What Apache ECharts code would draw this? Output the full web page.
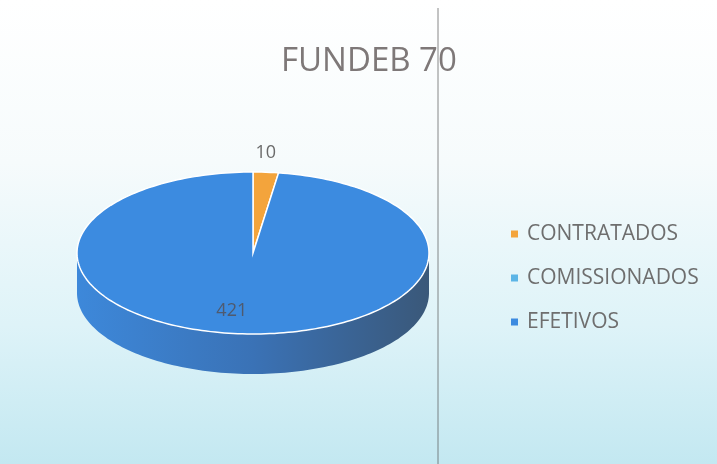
<!DOCTYPE html>
<html>
<head>
<meta charset="utf-8">
<script src="https://cdn.jsdelivr.net/npm/echarts@6/dist/echarts.min.js"></script>
<style>
  html, body { margin: 0; padding: 0; }
  #main { width: 717px; height: 464px; }
</style>
</head>
<body>
<div id="main"></div>
<script>
// dados
const categories = ['CONTRATADOS', 'COMISSIONADOS', 'EFETIVOS'];
const values = [10, 0, 421];
const colors = ['#f3a43c', '#5cb5e6', '#3c8be0'];

// geometria da pizza 3D
const cx = 253, cy = 253, rx = 176, ry = 81, depth = 40;

const total = values.reduce((a, b) => a + b, 0);
const startAngles = [];
let acc = 0;
values.forEach(v => { startAngles.push(acc / total * 360); acc += v; });

function pt(deg, k, dy) {
  const r = deg * Math.PI / 180;
  return [cx + k * rx * Math.sin(r), cy - k * ry * Math.cos(r) + (dy || 0)];
}

function arc(a0, a1, k, dy) {
  const pts = [];
  const n = Math.max(2, Math.ceil((a1 - a0) / 1.5));
  for (let i = 0; i <= n; i++) pts.push(pt(a0 + (a1 - a0) * i / n, k, dy));
  return pts;
}

function makeRender(i) {
  return function (params, api) {
    const v = values[i];
    if (!v) return { type: 'group', children: [] };
    const a0 = startAngles[i], a1 = a0 + v / total * 360;
    const children = [];
    // lateral (parte da frente)
    const s0 = Math.max(a0, 90), s1 = Math.min(a1, 270);
    if (s1 > s0) {
      const top = arc(s0, s1, 1, 0);
      const bottom = arc(s0, s1, 1, depth).reverse();
      children.push({
        type: 'polygon',
        shape: { points: top.concat(bottom) },
        style: {
          fill: {
            type: 'linear', global: true,
            x: cx - rx, y: 0, x2: cx + rx, y2: 0,
            colorStops: [
              { offset: 0, color: '#3d88da' },
              { offset: 0.5, color: '#3a72b6' },
              { offset: 1, color: '#3a5879' }
            ]
          }
        }
      });
    }
    // topo
    children.push({
      type: 'polygon',
      shape: { points: [[cx, cy]].concat(arc(a0, a1, 1, 0)) },
      style: { fill: colors[i], stroke: '#ffffff', lineWidth: 1.5 }
    });
    // rótulo
    const mid = (a0 + a1) / 2;
    const outside = v / total < 0.1;
    const p = outside ? pt(mid, 1, -19) : pt(mid, 0.72, 0);
    children.push({
      type: 'text',
      z2: 10,
      style: {
        x: outside ? p[0] : p[0] - 12, y: p[1],
        text: String(v),
        align: 'center', verticalAlign: 'middle',
        fill: outside ? '#6b6b6b' : '#4f5a6e',
        font: '18px "Open Sans"'
      }
    });
    return { type: 'group', children: children };
  };
}

const chart = echarts.init(document.getElementById('main'));
chart.setOption({
  animation: false,
  backgroundColor: new echarts.graphic.LinearGradient(0, 0, 0, 1, [
    { offset: 0, color: '#ffffff' },
    { offset: 0.35, color: '#f6fbfc' },
    { offset: 0.7, color: '#def3f8' },
    { offset: 1, color: '#c3e8f1' }
  ]),
  title: {
    text: 'FUNDEB 70',
    left: 276,
    top: 40,
    textStyle: { fontFamily: 'Open Sans', fontSize: 33, fontWeight: 'normal', color: '#7e7878' }
  },
  legend: {
    orient: 'vertical',
    left: 506,
    top: 218,
    icon: 'rect',
    itemWidth: 7,
    itemHeight: 7,
    itemGap: 22,
    data: categories,
    textStyle: { fontFamily: 'Open Sans', fontSize: 21, color: '#6e6e6e', lineHeight: 22, padding: [0, 0, 0, 4] }
  },
  graphic: [{
    type: 'line',
    shape: { x1: 438, y1: 8, x2: 438, y2: 464 },
    style: { stroke: '#555555', lineWidth: 1, opacity: 0.7 }
  }],
  series: categories.map((name, i) => ({
    type: 'custom',
    name: name,
    coordinateSystem: 'none',
    itemStyle: { color: colors[i] },
    data: [[values[i]]],
    renderItem: makeRender(i)
  }))
});
</script>
</body>
</html>
